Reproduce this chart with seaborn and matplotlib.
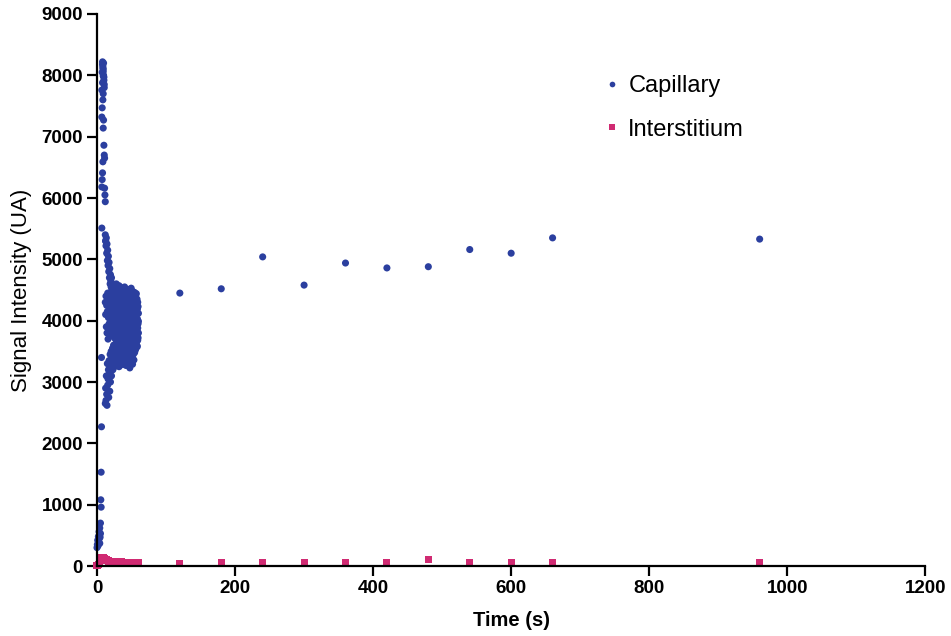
import numpy as np
import pandas as pd
import matplotlib
matplotlib.use("Agg")
import matplotlib.pyplot as plt
import seaborn as sns

# ---- Capillary: first seconds (baseline + bolus spike) ----
cap_early_t = [0, 0.5, 1, 1.5, 2, 2.5, 3, 3, 3.5, 4, 4, 4.5, 5]
cap_early_v = [300, 350, 420, 330, 480, 390, 560, 440, 500, 370, 620, 470, 530]

cap_spike_t = [5, 5.5, 6, 6, 6.5, 6.5, 7, 7, 7, 7.5, 7.5, 7.5, 8, 8, 8, 8.5,
               8.5, 8.5, 9, 9, 9, 9.5, 9.5, 10, 10, 10.5, 10.5, 11, 11, 11.5,
               12, 12.5, 8, 8.5, 9, 9.5, 10, 9, 10.5, 7]
cap_spike_v = [700, 1080, 1530, 960, 2270, 3400, 5510, 6180, 7320, 7470, 8050,
               6300, 8220, 7880, 6410, 8150, 7600, 6590, 8100, 7700, 7140, 8000,
               7270, 7970, 6860, 7800, 6700, 6650, 6160, 6050, 5940, 5300, 8180,
               8120, 8060, 8200, 7920, 7990, 7850, 7760]

# ---- Capillary: column after the peak (12-25 s) ----
cap_col_t = [12, 12.5, 13, 13.5, 14, 14.5, 15, 15.5, 16, 16.5,
             17, 17.5, 18, 18.5, 19, 19.5, 20, 20.5, 21, 21.5,
             22, 22.5, 23, 23.5, 24, 24.5, 25]
cap_col_v1 = [5400, 5300, 5220, 5350, 5100, 5250, 4980, 5150, 4900, 5050,
              4800, 4950, 4700, 4850, 4600, 4750, 4650, 4550, 4700, 4500,
              4600, 4450, 4550, 4400, 4500, 4350, 4450]
cap_col_v2 = [4300, 4100, 4400, 3900, 4250, 3800, 4150, 4450, 3700, 4050,
              4350, 3950, 4200, 3850, 4100, 4300, 3750, 4000, 4250, 3900,
              4150, 3800, 4050, 4200, 3950, 4100, 3850]
cap_col_v3 = [2650, 2900, 2700, 3100, 2800, 2620, 3300, 2950, 3050, 3200,
              2750, 3350, 3150, 2850, 3450, 3000, 3250, 3500, 3100, 3400,
              3300, 3550, 3200, 3450, 3600, 3350, 3500]

# ---- Capillary: plateau block (25-60 s) ----
cap_blk_t = [25, 25.5, 26, 26.5, 27, 27.5, 28, 28.5, 29, 29.5,
             30, 30.5, 31, 31.5, 32, 32.5, 33, 33.5, 34, 34.5,
             35, 35.5, 36, 36.5, 37, 37.5, 38, 38.5, 39, 39.5,
             40, 40.5, 41, 41.5, 42, 42.5, 43, 43.5, 44, 44.5,
             45, 45.5, 46, 46.5, 47, 47.5, 48, 48.5, 49, 49.5,
             50, 50.5, 51, 51.5, 52, 52.5, 53, 53.5, 54, 54.5,
             55, 55.5, 56, 56.5, 57, 57.5, 58, 58.5, 59, 59.5,
             60]
cap_blk_v1 = [4350, 4480, 4210, 4560, 4390, 4120, 4600, 4270, 4450, 4330,
              4180, 4520, 4410, 4250, 4570, 4300, 4140, 4460, 4380, 4220,
              4540, 4290, 4430, 4160, 4500, 4340, 4230, 4470, 4110, 4400,
              4550, 4260, 4360, 4190, 4490, 4320, 4240, 4420, 4150, 4510,
              4280, 4370, 4200, 4460, 4310, 4130, 4440, 4350, 4270, 4530,
              4170, 4390, 4250, 4480, 4330, 4200, 4420, 4100, 4360, 4460,
              4230, 4300, 4400, 4150, 4440, 4280, 4350, 4190, 4300, 4230,
              4120]
cap_blk_v2 = [3950, 4080, 3820, 4150, 3880, 4020, 3760, 4110, 3910, 4050,
              3840, 4190, 3990, 3730, 4060, 3870, 4140, 3930, 3800, 4000,
              4170, 3850, 3960, 4090, 3780, 4030, 3900, 4120, 3830, 3970,
              4070, 3750, 4010, 3890, 4160, 3810, 3940, 4040, 3860, 4100,
              3770, 3980, 4130, 3920, 3790, 4060, 3880, 4000, 3740, 4180,
              3900, 3830, 4080, 3960, 3710, 4020, 3870, 4110, 3940, 3800,
              4050, 3850, 3990, 3760, 4100, 3910, 3820, 4030, 3880, 3950,
              3990]
cap_blk_v3 = [3600, 3420, 3710, 3330, 3550, 3260, 3680, 3480, 3390, 3620,
              3300, 3570, 3750, 3450, 3250, 3640, 3510, 3360, 3700, 3280,
              3590, 3430, 3660, 3340, 3520, 3770, 3400, 3610, 3290, 3540,
              3730, 3460, 3350, 3650, 3270, 3580, 3410, 3690, 3310, 3500,
              3620, 3380, 3740, 3440, 3560, 3230, 3670, 3470, 3320, 3600,
              3780, 3400, 3530, 3290, 3650, 3450, 3700, 3360, 3580, 3480,
              3620, 3520, 3700, 3550, 3650, 3600, 3750, 3580, 3680, 3720,
              3800]

# ---- Capillary: late acquisitions ----
cap_late_t = [120, 180, 240, 300, 360, 420, 480, 540, 600, 660, 960]
cap_late_v = [4450, 4520, 5040, 4580, 4940, 4860, 4880, 5160, 5100, 5350, 5330]

# ---- Interstitium ----
int_early_t = [0, 1, 2, 3, 4, 5, 6, 7, 8, 9, 10, 11, 12, 13, 14, 15, 16, 17,
               18, 19, 20, 21, 22, 23, 24, 25, 26, 27, 28, 29, 30, 31, 32, 33,
               34, 35, 36, 37, 38, 39, 40, 41, 42, 43, 44, 45, 46, 47, 48, 49,
               50, 51, 52, 53, 54, 55, 56, 57, 58, 59, 60]
int_early_v = [10, 15, 25, 40, 60, 85, 110, 135, 145, 140, 130, 120, 110, 100,
               95, 90, 85, 82, 80, 78, 76, 75, 74, 73, 72, 72, 71, 70, 70, 69,
               68, 68, 67, 67, 66, 66, 65, 65, 64, 64, 63, 63, 62, 62, 61, 61,
               60, 60, 60, 59, 59, 58, 58, 58, 57, 57, 56, 56, 56, 55, 55]
int_late_t = [120, 180, 240, 300, 360, 420, 480, 540, 600, 660, 960]
int_late_v = [45, 50, 55, 50, 55, 55, 100, 55, 50, 60, 50]

cap_t = (cap_early_t + cap_spike_t + cap_col_t * 3 + cap_blk_t * 3 + cap_late_t)
cap_v = (cap_early_v + cap_spike_v + cap_col_v1 + cap_col_v2 + cap_col_v3
         + cap_blk_v1 + cap_blk_v2 + cap_blk_v3 + cap_late_v)
int_t = int_early_t + int_late_t
int_v = int_early_v + int_late_v

df = pd.DataFrame({
    "time": cap_t + int_t,
    "signal": cap_v + int_v,
    "series": ["Capillary"] * len(cap_t) + ["Interstitium"] * len(int_t),
})

sns.set_style("white")
plt.rcParams["font.family"] = ["Liberation Sans", "DejaVu Sans"]
plt.rcParams["text.color"] = "black"
plt.rcParams["axes.labelcolor"] = "black"
plt.rcParams["xtick.color"] = "black"
plt.rcParams["ytick.color"] = "black"

fig = plt.figure(figsize=(9.51, 6.36), dpi=100)
ax = fig.add_axes([0.102, 0.11, 0.871, 0.868])

sns.scatterplot(data=df, x="time", y="signal", hue="series", style="series",
                palette={"Capillary": "#2b3f9f", "Interstitium": "#d02a72"},
                markers={"Capillary": "o", "Interstitium": "s"},
                s=26, linewidth=0, clip_on=False, ax=ax)

ax.set_xlim(0, 1200)
ax.set_ylim(0, 9000)
ax.set_xticks(range(0, 1201, 200))
ax.set_yticks(range(0, 9001, 1000))
sns.despine(ax=ax)
for sp in ["left", "bottom"]:
    ax.spines[sp].set_linewidth(1.6)
    ax.spines[sp].set_color("black")
ax.tick_params(direction="out", length=7, width=1.6, labelsize=13.5,
               bottom=True, left=True, pad=3)
for lab in ax.get_xticklabels() + ax.get_yticklabels():
    lab.set_fontweight("bold")

ax.set_xlabel("Time (s)", fontsize=14.5, fontweight="bold", labelpad=10)
ax.set_ylabel("Signal Intensity (UA)", fontsize=16, labelpad=7)

handles, labels = ax.get_legend_handles_labels()
ax.legend(handles, labels, loc="upper left", bbox_to_anchor=(0.606, 0.915),
          bbox_transform=fig.transFigure, frameon=False, fontsize=17,
          labelspacing=0.9, handletextpad=0.1, handlelength=1.2,
          markerscale=0.8)

fig.savefig("out.png", dpi=100)
